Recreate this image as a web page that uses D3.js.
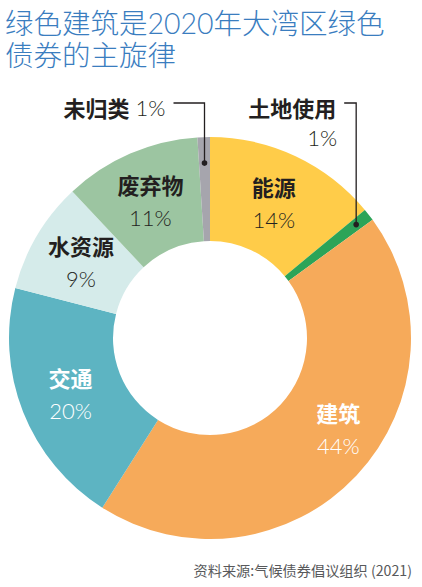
<!DOCTYPE html>
<html><head><meta charset="utf-8">
<script src="https://cdn.jsdelivr.net/npm/d3@7"></script>
<style>
html,body{margin:0;padding:0;background:#fff;}
svg{display:block;}
</style></head>
<body>
<script>
const categories = ["能源","土地使用","建筑","交通","水资源","废弃物","未归类"];
const values = [14, 1, 44, 20, 9, 11, 1];
const colors = ["#FFCC49","#2CA458","#F6AA5A","#5DB4C2","#D5EBEA","#9CC5A1","#A6A5AD"];
const textColors = ["#231F20","#231F20","#ffffff","#ffffff","#231F20","#231F20","#231F20"];
const titleLines = ["绿色建筑是2020年大湾区绿色","债券的主旋律"];
const sourceText = "资料来源:气候债券倡议组织 (2021)";

const W = 422, H = 587;
const cx = 210, cy = 338, R = 201, r0 = 97, labelR = 150;
const svg = d3.select("body").append("svg").attr("width", W).attr("height", H);

const latin = "Lato, 'Noto Sans CJK SC', sans-serif";
const cjk = "'Noto Sans CJK SC', sans-serif";

// title
svg.selectAll("text.title").data(titleLines).join("text")
  .attr("class","title")
  .attr("x", 5).attr("y", (d,i) => 34 + i*32)
  .attr("font-family", latin).attr("font-weight", 300)
  .attr("font-size", 28.5).attr("fill", "#3A7DBF")
  .text(d => d);

const data = categories.map((c,i) => ({name:c, value:values[i], color:colors[i], tc:textColors[i]}));
const pie = d3.pie().value(d => d.value).sort(null).startAngle(0).endAngle(2*Math.PI);
const arcs = pie(data);
const arc = d3.arc().innerRadius(r0).outerRadius(R);
const labelArc = d3.arc().innerRadius(labelR).outerRadius(labelR);

const g = svg.append("g").attr("transform", `translate(${cx},${cy})`);
g.selectAll("path").data(arcs).join("path")
  .attr("d", arc).attr("fill", d => d.data.color);

// inside labels (skip 1% slices)
const nudge = {"建筑":[19,-12]};
const inside = arcs.filter(d => d.data.value > 2);
const lg = g.selectAll("g.lab").data(inside).join("g").attr("class","lab")
  .attr("transform", d => {
    const [x,y] = labelArc.centroid(d);
    const n = nudge[d.data.name] || [0,0];
    return `translate(${x+n[0]},${y+n[1]})`;
  });
lg.append("text").attr("y", -16.5).attr("text-anchor","middle").attr("dominant-baseline","central")
  .attr("font-family", cjk).attr("font-weight", 700).attr("font-size", 22)
  .attr("fill", d => d.data.tc).text(d => d.data.name);
lg.append("text").attr("y", 17).attr("text-anchor","middle").attr("dominant-baseline","central")
  .attr("font-family", latin).attr("font-weight", 300).attr("font-size", 22)
  .attr("fill", d => d.data.tc).text(d => d.data.value + "%");

// leader lines for small slices
const leaderY = 103 - cy;
const small = arcs.filter(d => d.data.value <= 2);
const leaderR = {"未归类":175, "土地使用":185};
const gap = {"未归类":31, "土地使用":12};
small.forEach(d => {
  const a = (d.startAngle + d.endAngle)/2;
  const rr = leaderR[d.data.name];
  const px = rr*Math.sin(a), py = -rr*Math.cos(a);
  const x0 = px - gap[d.data.name];
  g.append("path")
    .attr("d", `M${x0},${leaderY}H${px}V${py}`)
    .attr("fill","none").attr("stroke","#231F20").attr("stroke-width",1.3);
  g.append("circle").attr("cx", px).attr("cy", py).attr("r", 2.8).attr("fill","#231F20");
  const tx = x0 - 8;
  if (d.data.name === "未归类") {
    const t = g.append("text").attr("x", tx).attr("y", 107 - cy)
      .attr("text-anchor","end").attr("dominant-baseline","central").attr("fill","#231F20");
    t.append("tspan").attr("font-family", cjk).attr("font-weight",700).attr("font-size",22).text(d.data.name);
    t.append("tspan").attr("font-family", latin).attr("font-weight",300).attr("font-size",22).text(" " + d.data.value + "%");
  } else {
    g.append("text").attr("x", tx).attr("y", 107 - cy)
      .attr("text-anchor","end").attr("dominant-baseline","central")
      .attr("font-family", cjk).attr("font-weight",700).attr("font-size",22).attr("fill","#231F20")
      .text(d.data.name);
    g.append("text").attr("x", tx+1).attr("y", 137 - cy)
      .attr("text-anchor","end").attr("dominant-baseline","central")
      .attr("font-family", latin).attr("font-weight",300).attr("font-size",22).attr("fill","#231F20")
      .text(d.data.value + "%");
  }
});

// source
svg.append("text").attr("x", 412).attr("y", 570)
  .attr("text-anchor","end").attr("dominant-baseline","central")
  .attr("font-family", cjk).attr("font-size", 14.2).attr("fill","#58595B")
  .text(sourceText);
</script>
</body></html>
